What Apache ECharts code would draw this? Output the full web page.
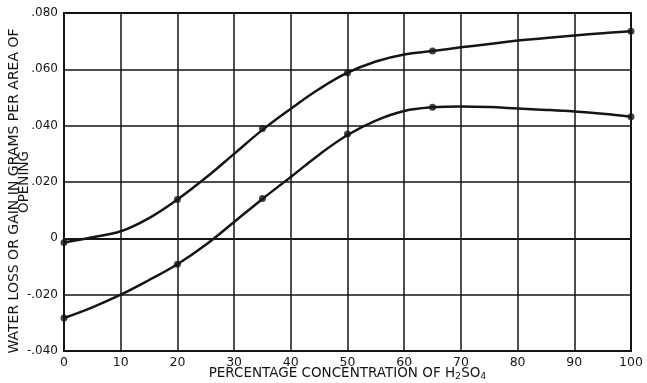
<!DOCTYPE html>
<html>
<head>
<meta charset="utf-8">
<script src="https://cdn.jsdelivr.net/npm/echarts@6/dist/echarts.min.js"></script>
<style>
html,body{margin:0;padding:0;background:#fff;}
#chart{width:647px;height:383px;}
</style>
</head>
<body>
<div id="chart"></div>
<script>
var pointX = [0, 20, 35, 50, 65, 100];
var upperPoints = [-0.0015, 0.0138, 0.039, 0.0588, 0.0665, 0.0735];
var lowerPoints = [-0.0283, -0.0092, 0.0141, 0.037, 0.0465, 0.0432];
// Curve positions
var curveX = [0, 5, 10, 15, 20, 25, 30, 35, 40, 45, 50, 55, 60, 65, 70, 75, 80, 85, 90, 95, 100];
var upperCurveY = [-0.0015, 0.0004, 0.0025, 0.0072, 0.0138, 0.0215, 0.030, 0.0385, 0.046, 0.053, 0.0588, 0.0628, 0.0653, 0.0665, 0.0678, 0.069, 0.0702, 0.0711, 0.072, 0.0728, 0.0735];
var lowerCurveY = [-0.0283, -0.0245, -0.020, -0.0148, -0.0092, -0.0023, 0.0058, 0.0140, 0.0218, 0.0297, 0.0367, 0.0418, 0.0452, 0.0465, 0.0468, 0.0466, 0.0461, 0.0456, 0.045, 0.0442, 0.0432];
// Tick labels
var xTickLabels = ['0','10','20','30','40','50','60','70','80','90','100'];
var yTickLabels = {'-0.04':'-.040','-0.02':'-.020','0':'0','0.02':'.020','0.04':'.040','0.06':'.060','0.08':'.080'};

function pairs(xs, ys){ return xs.map(function(x,i){ return [x, ys[i]]; }); }

var ink = '#151515';
var font = 'DejaVu Sans';

var chart = echarts.init(document.getElementById('chart'), null, {renderer:'canvas'});
chart.setOption({
  backgroundColor: '#fff',
  animation: false,
  grid: {left: 64, top: 13, right: 16, bottom: 32, containLabel: false, outerBoundsMode: 'none',
         show: true, borderColor: ink, borderWidth: 2, backgroundColor: 'transparent'},
  xAxis: {
    type: 'value', min: 0, max: 100, interval: 10,
    axisLine: {show: true, lineStyle: {color: ink, width: 2}},
    axisTick: {show: false},
    splitLine: {show: true, lineStyle: {color: ink, width: 1.5}},
    axisLabel: {color: ink, fontFamily: font, fontSize: 12.5, margin: 5,
      formatter: function(v){ var i = Math.round(v/10); return xTickLabels[i]; }},
    name: '{n|PERCENTAGE CONCENTRATION OF H}{s|2}{n|SO}{s|4}',
    nameLocation: 'middle', nameGap: 13, nameMoveOverlap: false,
    nameTextStyle: {
      rich: {
        n: {fontFamily: font, fontSize: 13.5, color: ink},
        s: {fontFamily: font, fontSize: 9.5, color: ink, padding: [8,0,0,0]}
      }
    }
  },
  yAxis: {
    type: 'value', min: -0.04, max: 0.08, interval: 0.02,
    axisLine: {show: true, lineStyle: {color: ink, width: 2}},
    axisTick: {show: false},
    splitLine: {show: true, lineStyle: {color: ink, width: 1.5}},
    axisLabel: {color: ink, fontFamily: font, fontSize: 12, margin: 6,
      formatter: function(v){ var k = (Math.abs(v) < 1e-9) ? '0' : String(Math.round(v*100)/100); return yTickLabels[k] || ''; }},
    name: '{a|WATER LOSS OR GAIN IN GRAMS PER AREA OF}\n{b|OPENING}',
    nameLocation: 'middle', nameRotate: 90, nameGap: 34, nameMoveOverlap: false,
    nameTextStyle: {
      align: 'center',
      rich: {
        a: {fontFamily: font, fontSize: 14, color: ink, lineHeight: 10.5, padding: [0, 18, 0, 0]},
        b: {fontFamily: font, fontSize: 13.5, color: ink, lineHeight: 10.5}
      }
    }
  },
  series: [
    {type: 'line', data: pairs(curveX, upperCurveY), smooth: 0.4, symbol: 'none',
     lineStyle: {color: ink, width: 2.5}},
    {type: 'line', data: pairs(curveX, lowerCurveY), smooth: 0.4, symbol: 'none',
     lineStyle: {color: ink, width: 2.5}},
    {type: 'scatter', data: pairs(pointX, upperPoints), symbol: 'circle', symbolSize: 7, itemStyle: {color: ink}},
    {type: 'scatter', data: pairs(pointX, lowerPoints), symbol: 'circle', symbolSize: 7, itemStyle: {color: ink}}
  ]
});
</script>
</body>
</html>
